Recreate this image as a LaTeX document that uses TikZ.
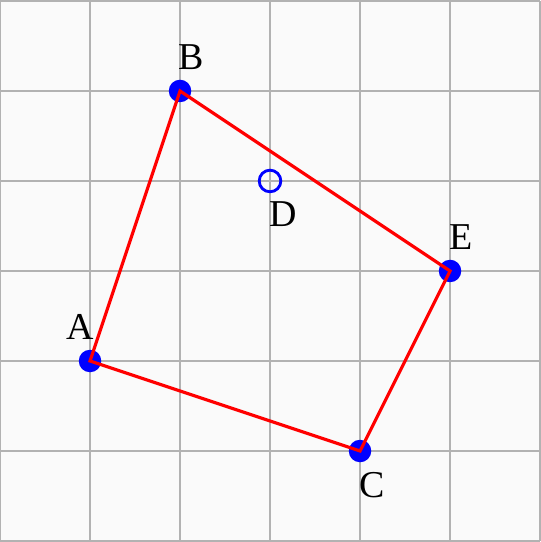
\documentclass[tikz,border=0pt]{standalone}
\usepackage{fontspec}
\setmainfont{Liberation Serif}
\begin{document}
\begin{tikzpicture}[font=\large]
\tikzset{
  pt/.style={circle, fill=blue, inner sep=0pt, minimum size=0.25cm},
  hollowpt/.style={circle, draw=blue, line width=0.9pt, fill=none, inner sep=0pt, minimum size=0.24cm},
  side/.style={red, line width=1pt}
}
\fill[gray!4] (0,-0.011) rectangle (6,6.011);
\useasboundingbox (0,-0.011) rectangle (6,6.011);
\draw[gray!60, line width=0.6pt] (0,0) grid (6,6);
% points
\node[pt] (a) at (1,2) {};
\node[pt] (b) at (2,5) {};
\node[pt] (c) at (4,1) {};
\node[pt] (e) at (5,3) {};
\node[hollowpt] (d) at (3,4) {};
% sides, over the points
\draw[side] (a.center) -- (b.center) -- (e.center) -- (c.center) -- cycle;
\node (la) at (0.89,2.38) {A};
\node (lb) at (2.12,5.38) {B};
\node (lc) at (4.13,0.62) {C};
\node (ld) at (3.15,3.63) {D};
\node (le) at (5.12,3.38) {E};
\end{tikzpicture}
\end{document}
